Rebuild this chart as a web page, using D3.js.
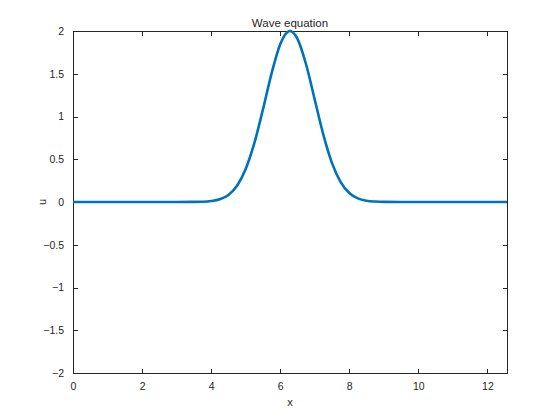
<!DOCTYPE html>
<html>
<head>
<meta charset="utf-8">
<script src="https://cdn.jsdelivr.net/npm/d3@7"></script>
<style>
  html, body { margin: 0; padding: 0; background: #fff; }
  svg { display: block; }
  text { font-family: "Liberation Sans", "DejaVu Sans", sans-serif; fill: #262626; }
</style>
</head>
<body>
<script>
// Data
const xValues = [0, 1, 2, 3, 3.5, 3.75, 4.0, 4.25, 4.5, 4.75, 5.0, 5.25, 5.5, 5.75, 6.0, 6.25, 6.28, 6.5, 6.75, 7.0, 7.25, 7.5, 7.75, 8.0, 8.25, 8.5, 8.75, 9.0, 9.5, 10, 11, 12, 12.566];
const uValues = [0, 0, 0, 0, 0.001, 0.003, 0.011, 0.032, 0.083, 0.19, 0.386, 0.688, 1.083, 1.505, 1.846, 1.998, 2.0, 1.908, 1.608, 1.196, 0.785, 0.455, 0.233, 0.105, 0.042, 0.015, 0.005, 0.001, 0, 0, 0, 0, 0];
const xTicks = [0, 2, 4, 6, 8, 10, 12];
const yTicks = [-2, -1.5, -1, -0.5, 0, 0.5, 1, 1.5, 2];
const titleText = "Wave equation";
const xLabel = "x";
const yLabel = "u";

const W = 560, H = 420;
const margin = { left: 73, right: 53, top: 31, bottom: 47 };
const svg = d3.select("body").append("svg").attr("width", W).attr("height", H);

const x = d3.scaleLinear().domain([0, 4 * Math.PI]).range([margin.left, W - margin.right]);
const y = d3.scaleLinear().domain([-2, 2]).range([H - margin.bottom, margin.top]);

const axisColor = "#262626";
const tickLen = 4.5;

// Box
svg.append("rect")
  .attr("x", x.range()[0]).attr("y", y.range()[1])
  .attr("width", x.range()[1] - x.range()[0])
  .attr("height", y.range()[0] - y.range()[1])
  .attr("fill", "none").attr("stroke", axisColor).attr("stroke-width", 1)
  .attr("shape-rendering", "crispEdges");

function styleAxis(g) {
  g.select(".domain").remove();
  g.selectAll(".tick line").attr("stroke", axisColor).attr("shape-rendering", "crispEdges");
  g.selectAll(".tick text").style("font-size", "10.5px").attr("fill", axisColor);
}

// Bottom axis (ticks inward)
svg.append("g")
  .attr("transform", `translate(0,${y.range()[0]})`)
  .call(d3.axisBottom(x).tickValues(xTicks).tickSizeInner(-tickLen).tickSizeOuter(0).tickPadding(10).tickFormat(d3.format("d")))
  .call(styleAxis);
// Top ticks
svg.append("g")
  .attr("transform", `translate(0,${y.range()[1]})`)
  .call(d3.axisTop(x).tickValues(xTicks).tickSizeInner(-tickLen).tickSizeOuter(0).tickFormat(""))
  .call(styleAxis);
// Left axis
svg.append("g")
  .attr("transform", `translate(${x.range()[0]},0)`)
  .call(d3.axisLeft(y).tickValues(yTicks).tickSizeInner(-tickLen).tickSizeOuter(0).tickPadding(9)
    .tickFormat(d => d3.format("")(d).replace("-", "\u2212")))
  .call(styleAxis);
// Right ticks
svg.append("g")
  .attr("transform", `translate(${x.range()[1]},0)`)
  .call(d3.axisRight(y).tickValues(yTicks).tickSizeInner(-tickLen).tickSizeOuter(0).tickFormat(""))
  .call(styleAxis);

// Line
const pts = xValues.map((v, i) => [v, uValues[i]]);
const clipId = "plotclip";
svg.append("clipPath").attr("id", clipId).append("rect")
  .attr("x", x.range()[0]).attr("y", y.range()[1] - 3)
  .attr("width", x.range()[1] - x.range()[0]).attr("height", y.range()[0] - y.range()[1] + 6);
svg.append("path")
  .datum(pts)
  .attr("clip-path", `url(#${clipId})`)
  .attr("fill", "none")
  .attr("stroke", "#0072BD")
  .attr("stroke-width", 2.6)
  .attr("stroke-linejoin", "round")
  .attr("d", d3.line().x(d => x(d[0])).y(d => y(d[1])).curve(d3.curveMonotoneX));

// Title and labels
svg.append("text")
  .attr("x", (x.range()[0] + x.range()[1]) / 2).attr("y", 26.5)
  .attr("text-anchor", "middle").style("font-size", "11.5px")
  .text(titleText);
svg.append("text")
  .attr("x", (x.range()[0] + x.range()[1]) / 2).attr("y", 406)
  .attr("text-anchor", "middle").style("font-size", "11px")
  .text(xLabel);
svg.append("text")
  .attr("transform", `translate(46,${y(0)}) rotate(-90)`)
  .attr("text-anchor", "middle").style("font-size", "11px")
  .text(yLabel);
</script>
</body>
</html>
